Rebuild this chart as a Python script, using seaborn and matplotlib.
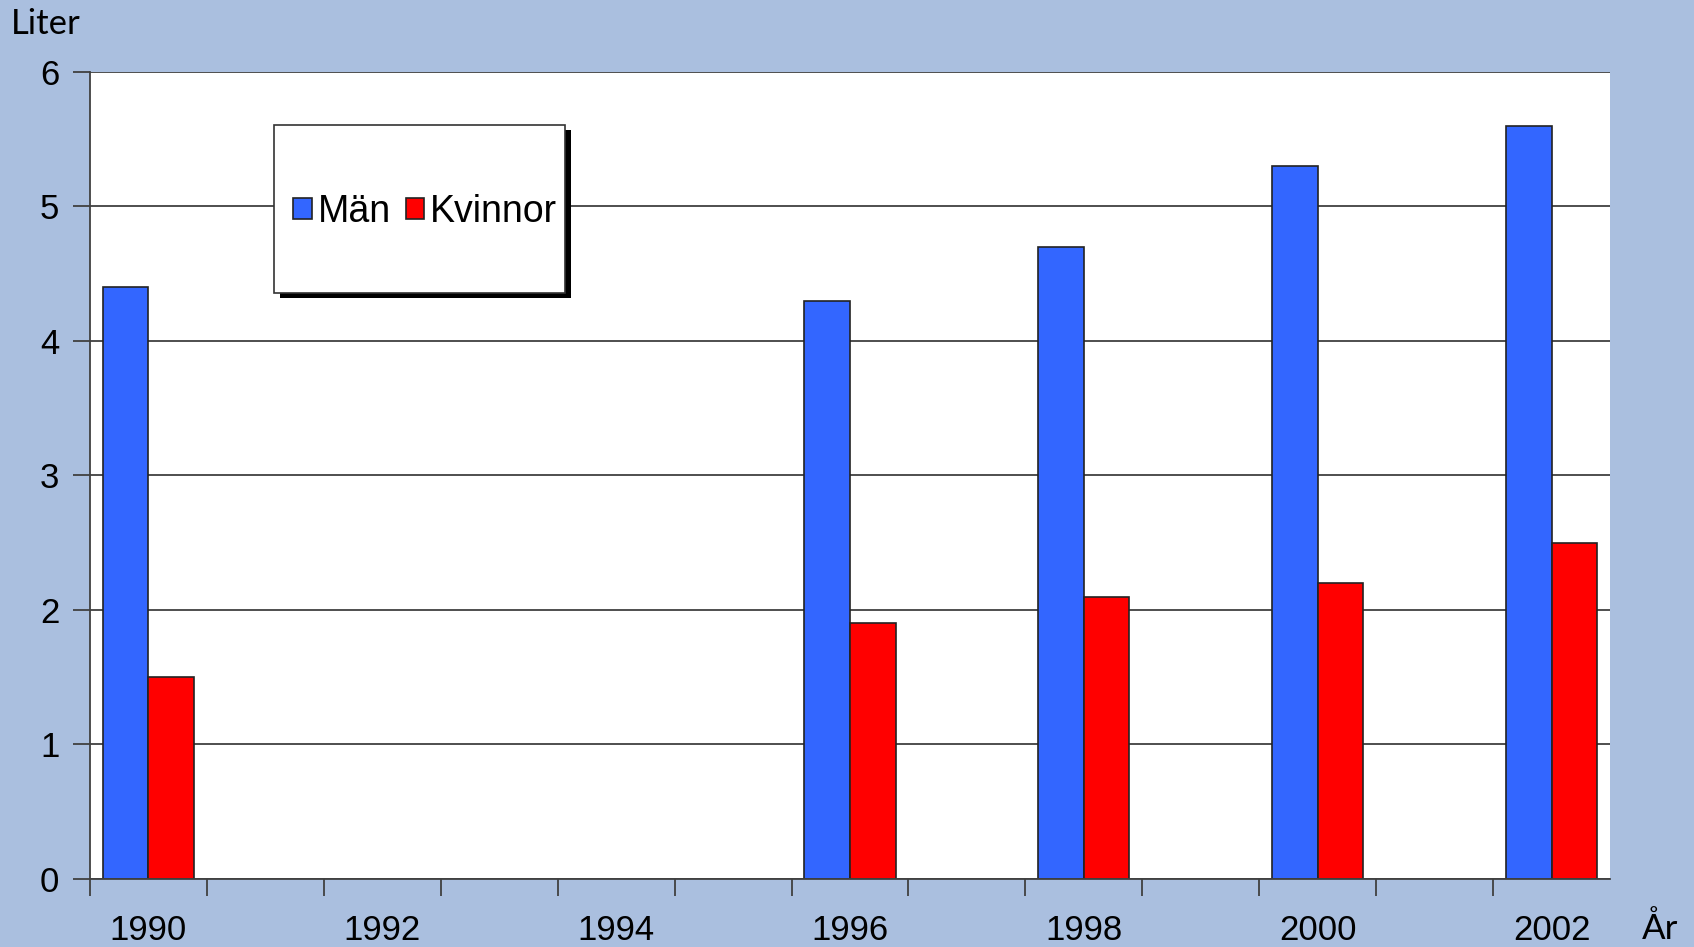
import matplotlib
matplotlib.use("Agg")
import matplotlib.pyplot as plt
import matplotlib.patches as mpatches
import numpy as np
import pandas as pd
import seaborn as sns

# data (litres of pure alcohol per year)
years = [str(y) for y in range(1990, 2003)]
data_years = ["1990", "1996", "1998", "2000", "2002"]
man = [4.4, 4.3, 4.7, 5.3, 5.6]
kvinnor = [1.5, 1.9, 2.1, 2.2, 2.5]
groups = ["Män", "Kvinnor"]
colors = ["#3366FF", "#FF0000"]
label_years = ["1990", "1992", "1994", "1996", "1998", "2000", "2002"]

df = pd.DataFrame({
    "År": data_years * 2,
    "Liter": man + kvinnor,
    "Grupp": [groups[0]] * len(man) + [groups[1]] * len(kvinnor),
})

bg = "#AABFDF"
dark = "#404040"

sns.set_style("white")
plt.rcParams["font.family"] = ["Liberation Sans", "DejaVu Sans"]
plt.rcParams["text.color"] = "black"
plt.rcParams["xtick.labelcolor"] = "black"
plt.rcParams["ytick.labelcolor"] = "black"

fig = plt.figure(figsize=(16.94, 9.47), dpi=100, facecolor=bg)
ax = fig.add_axes([0.0531, 0.0718, 0.8973, 0.8522])
ax.set_facecolor("white")

sns.barplot(data=df, x="År", y="Liter", hue="Grupp", order=years,
            hue_order=groups, palette=colors, width=0.78, saturation=1,
            edgecolor="#222222", linewidth=1.2, errorbar=None, ax=ax)

ax.set_xlim(-0.5, len(years) - 0.5)
ax.set_ylim(0, 6)
ax.set_yticks(range(0, 7))
ax.yaxis.grid(True, color=dark, lw=1.3)
ax.set_axisbelow(True)

for side in ["top", "right"]:
    ax.spines[side].set_visible(False)
for side in ["left", "bottom"]:
    ax.spines[side].set_color(dark)
    ax.spines[side].set_linewidth(1.3)

# category boundaries as major ticks, even-year labels as minor ticks
ax.set_xticks(np.arange(-0.5, len(years) - 1, 1))
ax.set_xticklabels([])
ax.set_xticks([years.index(y) for y in label_years], minor=True)
ax.set_xticklabels(label_years, minor=True)
ax.tick_params(axis="x", which="major", bottom=True, direction="out",
               length=12, width=1.3, color=dark)
ax.tick_params(axis="x", which="minor", bottom=True, length=0, pad=25,
               labelsize=25, labelcolor="black")
ax.tick_params(axis="y", left=True, direction="out", length=12, width=1.3,
               color=dark, pad=10, labelsize=25, labelcolor="black")
ax.set_xlabel("")
ax.set_ylabel("")

# legend box with drop shadow
lx, ly, lw, lh = 0.121, 0.726, 0.1915, 0.208
ax.add_patch(mpatches.Rectangle((lx + 0.004, ly - 0.0065), lw, lh,
                                transform=ax.transAxes, facecolor="black",
                                edgecolor="none", zorder=4))
ax.add_patch(mpatches.Rectangle((lx, ly), lw, lh, transform=ax.transAxes,
                                facecolor="white", edgecolor="#333333",
                                lw=1.2, zorder=5))
leg = ax.legend(loc="center", bbox_to_anchor=(0.2204, 0.827), ncol=2,
                frameon=False, fontsize=27, handlelength=0.5,
                handleheight=0.5, handletextpad=0.15, columnspacing=0.4,
                labelcolor="black")
leg.set_zorder(6)

fig.text(0.0065, 0.975, "Liter", family=["Lato", "DejaVu Sans"],
         fontsize=25, va="center", ha="left", color="black")
fig.text(0.98, 0.02, "År", family=["Lato", "DejaVu Sans"],
         fontsize=25, va="center", ha="center", color="black")

fig.savefig("out.png", dpi=100, facecolor=bg)
